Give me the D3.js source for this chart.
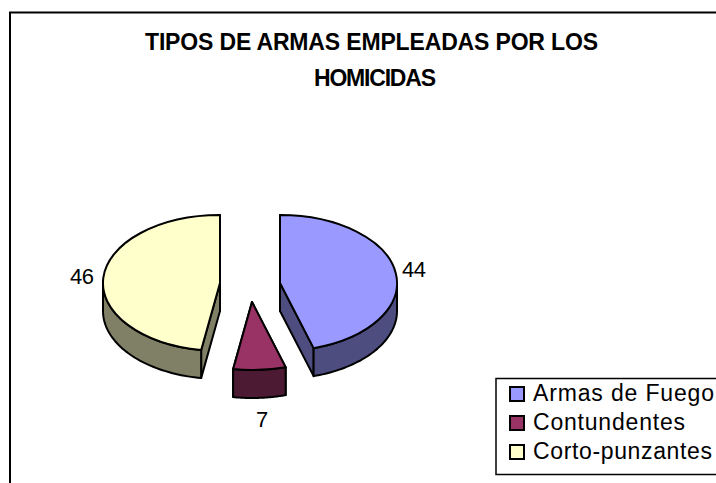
<!DOCTYPE html>
<html><head><meta charset="utf-8">
<script src="https://cdn.jsdelivr.net/npm/d3@7"></script>
<style>html,body{margin:0;padding:0;background:#fff;overflow:hidden}svg{display:block}text{font-family:"Liberation Sans",Arial,sans-serif;fill:#000}</style>
</head><body><svg id="c" width="716" height="483"></svg>
<script>
const categories = ["Armas de Fuego","Contundentes","Corto-punzantes"];
const values = [44,7,46];
const titleLines = ["TIPOS DE ARMAS EMPLEADAS POR LOS","HOMICIDAS"];
const topColors = ["#9999FF","#993366","#FFFFCC"];
const sideColors = ["#4D4D80","#4D1A33","#808066"];
const centers = [[280,283],[252,302],[220,283]];
const labelPos = [[414,277],[262,427],[82,284]];
const labelWidths = [24,12,24];
const rx = 117, ry = 68, depth = 28;

const svg = d3.select("#c");
svg.append("rect").attr("x",10).attr("y",12.5).attr("width",760).attr("height",520)
  .attr("fill","#fff").attr("stroke","#000").attr("stroke-width",2);

titleLines.forEach((t,i)=>svg.append("text").attr("x",i?375:371.5).attr("y",i?86:50)
  .attr("text-anchor","middle").attr("font-weight","bold").attr("font-size",23)
  .attr("textLength",i?122:453).attr("lengthAdjust","spacing").text(t));

const pie = d3.pie().sort(null).value(d=>d)(values);
const arc = d3.arc().innerRadius(0).outerRadius(1);
const rim = (a,c,dy=0)=>[c[0]+rx*Math.sin(a), c[1]-ry*Math.cos(a)+dy];
const line = d3.line();

pie.forEach((p,i)=>{
  const c = centers[i];
  const g = svg.append("g").attr("stroke","#000").attr("stroke-width",2).attr("stroke-linejoin","round").attr("fill",sideColors[i]);
  [p.startAngle,p.endAngle].forEach(a=>{
    const e = rim(a,c);
    g.append("path").attr("d",line([c,e,[e[0],e[1]+depth],[c[0],c[1]+depth]])+"Z");
  });
  const a0 = Math.max(p.startAngle,Math.PI/2), a1 = Math.min(p.endAngle,Math.PI*1.5);
  if(a1>a0){
    const n = 48, s = d3.range(n+1).map(k=>a0+(a1-a0)*k/n);
    g.append("path").attr("d",line([...s.map(a=>rim(a,c)),...s.slice().reverse().map(a=>rim(a,c,depth))])+"Z");
  }
  svg.append("path").attr("d",arc(p))
    .attr("transform",`translate(${c[0]},${c[1]}) scale(${rx},${ry})`)
    .attr("fill",topColors[i]).attr("stroke","#000").attr("stroke-width",2)
    .attr("stroke-linejoin","round").attr("vector-effect","non-scaling-stroke");
  svg.append("text").attr("x",labelPos[i][0]).attr("y",labelPos[i][1]).attr("text-anchor","middle")
    .attr("font-size",22).attr("textLength",labelWidths[i]).attr("lengthAdjust","spacing").text(values[i]);
});

svg.append("rect").attr("x",496).attr("y",378.5).attr("width",240).attr("height",96)
  .attr("fill","#fff").attr("stroke","#000").attr("stroke-width",1.5);
const legendY = d3.scalePoint().domain(categories).range([393,451]);
const widths = [181,152,179];
categories.forEach((name,i)=>{
  const y = legendY(name);
  svg.append("rect").attr("x",510).attr("y",y-6).attr("width",14).attr("height",14)
    .attr("fill",topColors[i]).attr("stroke","#000").attr("stroke-width",2);
  svg.append("text").attr("x",533).attr("y",y+8).attr("font-size",23)
    .attr("textLength",widths[i]).attr("lengthAdjust","spacing").text(name);
});
</script></body></html>
